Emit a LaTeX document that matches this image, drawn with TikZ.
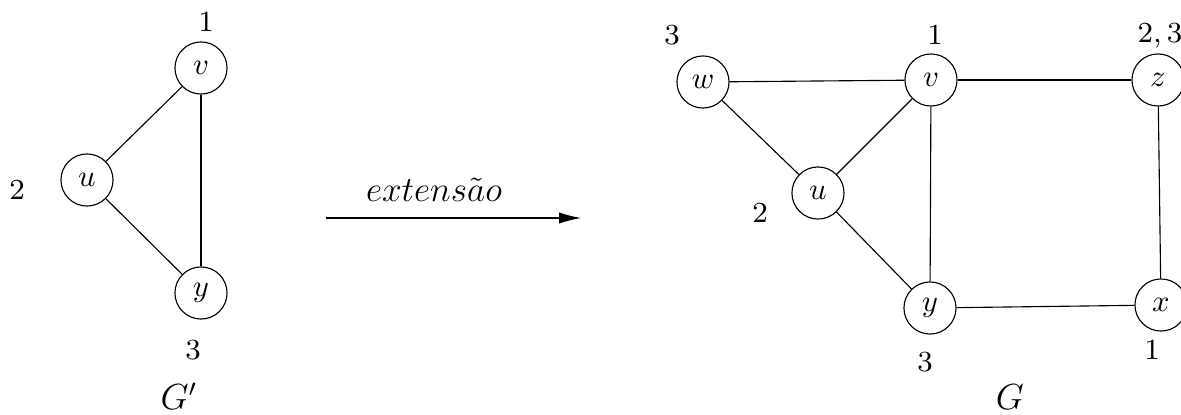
\documentclass[tikz,border=0pt]{standalone}
\usepackage{graphicx}
\usetikzlibrary{arrows.meta}
\newcommand{\colnum}[1]{\scalebox{1.3}{#1}}
\newcommand{\grname}[1]{\scalebox{1.08}{#1}}
\begin{document}
\begin{tikzpicture}[x=0.357pt,y=-0.357pt,
  vtx/.style={circle,draw,line width=0.4pt,minimum size=18.6pt,inner sep=0pt,font=\fontsize{11}{13}\selectfont},
  col/.style={inner sep=0pt,font=\footnotesize},
  gname/.style={inner sep=0pt,font=\large},
  edge/.style={line width=0.4pt}]
\useasboundingbox (0,0) rectangle (1181,415);
% left graph G'
\node[vtx] (lv) at (201,68) {$v$};
\node[vtx] (lu) at (87,180) {$u$};
\node[vtx] (ly) at (201,293) {$y$};
\draw[edge] (lu) -- (lv);
\draw[edge] (lv) -- (ly);
\draw[edge] (lu) -- (ly);
\node[col] (c1) at (206,22) {\colnum{1}};
\node[col] (c2) at (17,190) {\colnum{2}};
\node[col] (c3) at (193,350) {\colnum{3}};
\node[gname] (gp) at (179,396) {\grname{$G'$}};
% arrow
\coordinate (a1) at (326,218);
\coordinate (a2) at (581,218);
\draw[line width=0.4pt,-{Latex[length=7.8pt,width=4pt]}] (a1) -- (a2);
\node[gname] (ext) at (434,190) {\scalebox{1.05}{$extens\tilde{a}o$}};
% right graph G
\node[vtx] (w) at (703,82) {$w$};
\node[vtx] (v) at (931,80) {$v$};
\node[vtx] (z) at (1158,80) {$z$};
\node[vtx] (u) at (818,193) {$u$};
\node[vtx] (y) at (930,308) {$y$};
\node[vtx] (x) at (1161,305) {$x$};
\draw[edge] (w) -- (v);
\draw[edge] (w) -- (u);
\draw[edge] (u) -- (v);
\draw[edge] (v) -- (z);
\draw[edge] (v) -- (y);
\draw[edge] (u) -- (y);
\draw[edge] (y) -- (x);
\draw[edge] (z) -- (x);
\node[col] (d1) at (672,35) {\colnum{3}};
\node[col] (d2) at (935,35) {\colnum{1}};
\node[col] (d3) at (1160,36) {\colnum{$2,3$}};
\node[col] (d4) at (760,213) {\colnum{2}};
\node[col] (d5) at (925,362) {\colnum{3}};
\node[col] (d6) at (1152,350) {\colnum{1}};
\node[gname] (g) at (1010,397) {\grname{$G$}};
\end{tikzpicture}
\end{document}
